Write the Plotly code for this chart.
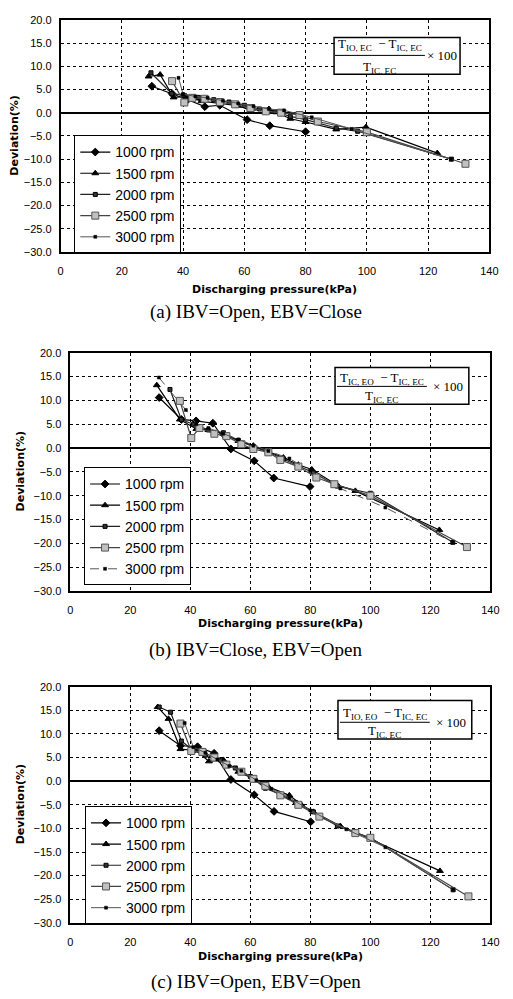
import plotly.graph_objects as go

W, H = 513, 999

rpm_labels = ["1000 rpm", "1500 rpm", "2000 rpm", "2500 rpm", "3000 rpm"]
x_ticks = [0, 20, 40, 60, 80, 100, 120, 140]
y_ticks = [20, 15, 10, 5, 0, -5, -10, -15, -20, -25, -30]

# ---- panel (a) IBV=Open, EBV=Close ----
a_1000_x = [29.8, 36.4, 41.5, 47.1, 52.0, 60.9, 68.3, 80.0]
a_1000_y = [5.7, 4.1, 2.8, 1.3, 1.6, -1.5, -2.8, -4.1]
a_1500_x = [28.7, 32.5, 36.9, 41.0, 46.0, 52.0, 58.0, 62.0, 68.0, 75.0, 80.0, 90.0, 99.7, 123.0]
a_1500_y = [7.8, 8.2, 3.3, 3.5, 2.5, 2.0, 1.5, 0.5, 0.8, -1.3, -2.0, -3.6, -3.1, -8.7]
a_2000_x = [29.5, 36.3, 40.0, 45.0, 50.0, 55.0, 60.0, 65.0, 70.0, 75.0, 80.0, 90.0, 97.0, 127.6]
a_2000_y = [8.6, 4.1, 3.8, 3.3, 2.8, 2.3, 1.6, 0.8, 0.2, -0.8, -1.5, -3.3, -4.0, -10.0]
a_2500_x = [36.4, 40.4, 43.0, 47.0, 52.0, 57.0, 62.0, 67.0, 72.0, 78.0, 84.0, 100.0, 132.2]
a_2500_y = [6.8, 2.2, 3.2, 3.0, 2.3, 1.8, 1.0, 0.3, 0.0, -0.5, -1.9, -4.2, -11.0]
a_3000_x = [38.5, 40.0, 44.0, 48.0, 53.0, 58.0, 63.0, 68.0, 73.0, 82.0, 95.0, 127.5]
a_3000_y = [7.5, 4.0, 3.5, 3.2, 2.6, 2.0, 1.4, 0.8, 0.5, -1.0, -3.5, -10.0]

# ---- panel (b) IBV=Close, EBV=Open ----
b_1000_x = [29.6, 37.0, 41.9, 47.5, 53.5, 61.3, 67.8, 79.9]
b_1000_y = [10.6, 6.0, 5.7, 5.2, -0.2, -2.7, -6.3, -8.1]
b_1500_x = [28.8, 36.5, 42.0, 46.0, 51.0, 56.0, 61.0, 66.0, 71.0, 76.0, 80.5, 89.0, 95.0, 123.0]
b_1500_y = [13.2, 6.0, 4.0, 3.8, 3.0, 1.5, 0.5, -0.8, -2.0, -3.5, -4.5, -7.8, -9.0, -17.2]
b_2000_x = [33.2, 37.0, 41.0, 46.0, 51.0, 56.0, 61.0, 66.0, 71.0, 76.0, 81.0, 89.0, 100.0, 127.5]
b_2000_y = [12.3, 6.0, 5.0, 3.8, 3.2, 1.6, 0.3, -0.9, -2.3, -3.8, -5.2, -8.0, -9.5, -19.8]
b_2500_x = [36.5, 40.3, 43.0, 48.0, 52.0, 57.0, 61.0, 66.0, 70.0, 76.0, 82.0, 88.0, 100.0, 132.2]
b_2500_y = [9.9, 2.1, 4.2, 3.0, 2.5, 0.8, -0.2, -0.9, -2.5, -3.9, -6.2, -7.6, -10.0, -20.8]
b_3000_x = [29.5, 38.5, 42.0, 46.0, 51.0, 56.0, 61.0, 66.0, 73.0, 80.0, 90.0, 105.0, 127.5]
b_3000_y = [14.8, 8.0, 5.0, 4.2, 3.0, 1.8, 0.5, -0.6, -2.2, -4.8, -8.5, -12.5, -19.8]

# ---- panel (c) IBV=Open, EBV=Open ----
c_1000_x = [29.6, 36.7, 42.4, 47.9, 53.5, 61.3, 67.9, 80.1]
c_1000_y = [10.7, 7.5, 7.3, 5.9, 0.35, -2.9, -6.4, -8.6]
c_1500_x = [29.1, 32.7, 36.7, 42.0, 46.2, 51.0, 56.0, 61.0, 66.0, 73.0, 77.0, 81.0, 90.0, 95.0, 123.2]
c_1500_y = [15.7, 13.2, 6.8, 6.5, 4.2, 4.5, 2.0, 0.5, -1.2, -3.0, -5.0, -6.5, -9.5, -10.8, -19.0]
c_2000_x = [29.6, 33.4, 37.0, 41.0, 45.0, 50.0, 55.0, 60.0, 65.0, 70.0, 75.0, 81.0, 89.0, 100.0, 127.6]
c_2000_y = [15.7, 14.6, 8.5, 6.5, 5.5, 4.5, 2.8, 1.0, -1.5, -2.8, -4.5, -6.5, -9.5, -12.0, -23.0]
c_2500_x = [36.7, 40.3, 44.0, 48.0, 52.0, 57.0, 61.0, 65.0, 70.0, 76.0, 83.0, 95.0, 100.0, 132.7]
c_2500_y = [12.2, 6.4, 6.2, 5.0, 3.5, 2.0, 0.5, -1.0, -3.0, -5.0, -7.5, -11.0, -12.0, -24.4]
c_3000_x = [38.1, 41.0, 45.0, 49.0, 53.0, 57.0, 62.0, 67.0, 73.0, 80.0, 92.0, 105.0, 127.6]
c_3000_y = [12.3, 7.2, 6.0, 4.6, 3.2, 2.2, 0.2, -1.6, -3.5, -6.2, -10.2, -14.0, -23.0]

captions = ["(a) IBV=Open, EBV=Close", "(b) IBV=Close, EBV=Open", "(c) IBV=Open, EBV=Open"]
numerators = ["T<sub>IO, EC</sub>  − T<sub>IC, EC</sub>",
              "T<sub>IC, EO</sub>  − T<sub>IC, EC</sub>",
              "T<sub>IO, EO</sub>  − T<sub>IC, EC</sub>"]
denominator = "T<sub>IC, EC</sub>"
x_title = "Discharging pressure(kPa)"
y_title = "Deviation(%)"

panels_data = [
    [(a_1000_x, a_1000_y), (a_1500_x, a_1500_y), (a_2000_x, a_2000_y), (a_2500_x, a_2500_y), (a_3000_x, a_3000_y)],
    [(b_1000_x, b_1000_y), (b_1500_x, b_1500_y), (b_2000_x, b_2000_y), (b_2500_x, b_2500_y), (b_3000_x, b_3000_y)],
    [(c_1000_x, c_1000_y), (c_1500_x, c_1500_y), (c_2000_x, c_2000_y), (c_2500_x, c_2500_y), (c_3000_x, c_3000_y)],
]

def px(x):
    return x / W

def py(y):
    return 1 - y / H

# layout geometry (pixels)
geo = [
    dict(l=59, r=498, t=14, b=249, leg=(73, 131), xt=287, cap=310, yt=12,
         box=(339, 32, 468, 69), num=39, line=50, den=62, frac=(340, 432), times=450, dash3="solid"),
    dict(l=69, r=499, t=351, b=592, leg=(83, 467), xt=625, cap=652, yt=18,
         box=(340, 366, 477, 403), num=377, line=385, den=395, frac=(342, 434), times=456, dash3="dash"),
    dict(l=69, r=499, t=689, b=928, leg=(84, 810), xt=962, cap=988, yt=18,
         box=(343, 703, 480, 742), num=716, line=725, den=734, frac=(345, 437), times=459, dash3="solid"),
]

styles = [
    dict(symbol="diamond", size=6, color="black", line=dict(color="black", width=1), lc="black", lw=1.2),
    dict(symbol="triangle-up", size=6, color="black", line=dict(color="black", width=1), lc="black", lw=1.2),
    dict(symbol="square", size=4, color="#333333", line=dict(color="black", width=1), lc="#222222", lw=1.2),
    dict(symbol="square", size=7, color="#c0c0c0", line=dict(color="#555555", width=1), lc="#444444", lw=1.2),
    dict(symbol="square", size=3, color="black", line=dict(color="black", width=0.5), lc="#555555", lw=1.0),
]

fig = go.Figure()
layout = dict(width=W, height=H, margin=dict(l=0, r=0, t=0, b=0),
              paper_bgcolor="white", plot_bgcolor="white", showlegend=True)
annotations = []
shapes = []

def ann(x, y, text, font, **kw):
    d = dict(x=px(x), y=py(y), xref="paper", yref="paper", showarrow=False,
             xanchor="center", yanchor="middle", text=text, font=font)
    d.update(kw)
    annotations.append(d)

sans = "Liberation Sans, Arial"
wide = "DejaVu Sans"
serif = "Liberation Serif, Times New Roman"

for i, (g, pdata) in enumerate(zip(geo, panels_data)):
    sfx = "" if i == 0 else str(i + 1)
    legname = "legend" if i == 0 else f"legend{i + 1}"
    for j, ((xs, ys), st) in enumerate(zip(pdata, styles)):
        dash = g["dash3"] if j == 4 else "solid"
        fig.add_trace(go.Scatter(
            x=xs, y=ys, mode="lines+markers", name=rpm_labels[j],
            xaxis="x" + sfx, yaxis="y" + sfx, legend=legname,
            line=dict(color=st["lc"], width=st["lw"], dash=dash),
            marker=dict(symbol=st["symbol"], size=st["size"], color=st["color"], line=st["line"]),
        ))
    common = dict(showline=True, mirror=True, linecolor="black", linewidth=1.5,
                  showgrid=True, gridcolor="black", gridwidth=1, griddash="dot",
                  ticks="", tickfont=dict(family=sans, size=11, color="black"))
    layout["xaxis" + sfx] = dict(common, domain=[px(g["l"]), px(g["r"])], range=[0, 140],
                                 tickvals=x_ticks, ticklabelstandoff=8, zeroline=False,
                                 anchor="y" + sfx)
    layout["yaxis" + sfx] = dict(common, domain=[py(g["b"]), py(g["t"])], range=[-30, 20],
                                 tickvals=y_ticks, tickformat=".1f", ticklabelstandoff=5,
                                 zeroline=True, zerolinecolor="black", zerolinewidth=2,
                                 anchor="x" + sfx)
    layout[legname] = dict(x=px(g["leg"][0]), y=py(g["leg"][1]), xanchor="left", yanchor="top",
                           bgcolor="white", bordercolor="black", borderwidth=1,
                           font=dict(family=sans, size=14, color="black"),
                           tracegroupgap=0, itemwidth=30)
    cx = (g["l"] + g["r"]) / 2
    ann(cx, g["xt"], "<b>" + x_title + "</b>", dict(family=wide, size=11, color="black"))
    ann(g["yt"], (g["t"] + g["b"]) / 2, "<b>" + y_title + "</b>",
        dict(family=wide, size=11, color="black"), textangle=-90)
    ann(259, g["cap"], captions[i], dict(family=serif, size=19, color="black"))
    bl, bt, br, bb = g["box"]
    shapes.append(dict(type="rect", xref="paper", yref="paper", x0=px(bl), x1=px(br),
                       y0=py(bb), y1=py(bt), line=dict(color="black", width=1.5), fillcolor="white",
                       layer="above"))
    f0, f1 = g["frac"]
    shapes.append(dict(type="line", xref="paper", yref="paper", x0=px(f0), x1=px(f1),
                       y0=py(g["line"]), y1=py(g["line"]), line=dict(color="black", width=1),
                       layer="above"))
    ff = dict(family=serif, size=13, color="black")
    ann((f0 + f1) / 2, g["num"], numerators[i], ff)
    ann((f0 + f1) / 2, g["den"], denominator, ff)
    ann(g["times"], g["line"], "× 100", ff)

layout["annotations"] = annotations
layout["shapes"] = shapes
fig.update_layout(**layout)
fig.write_html("out.html")
